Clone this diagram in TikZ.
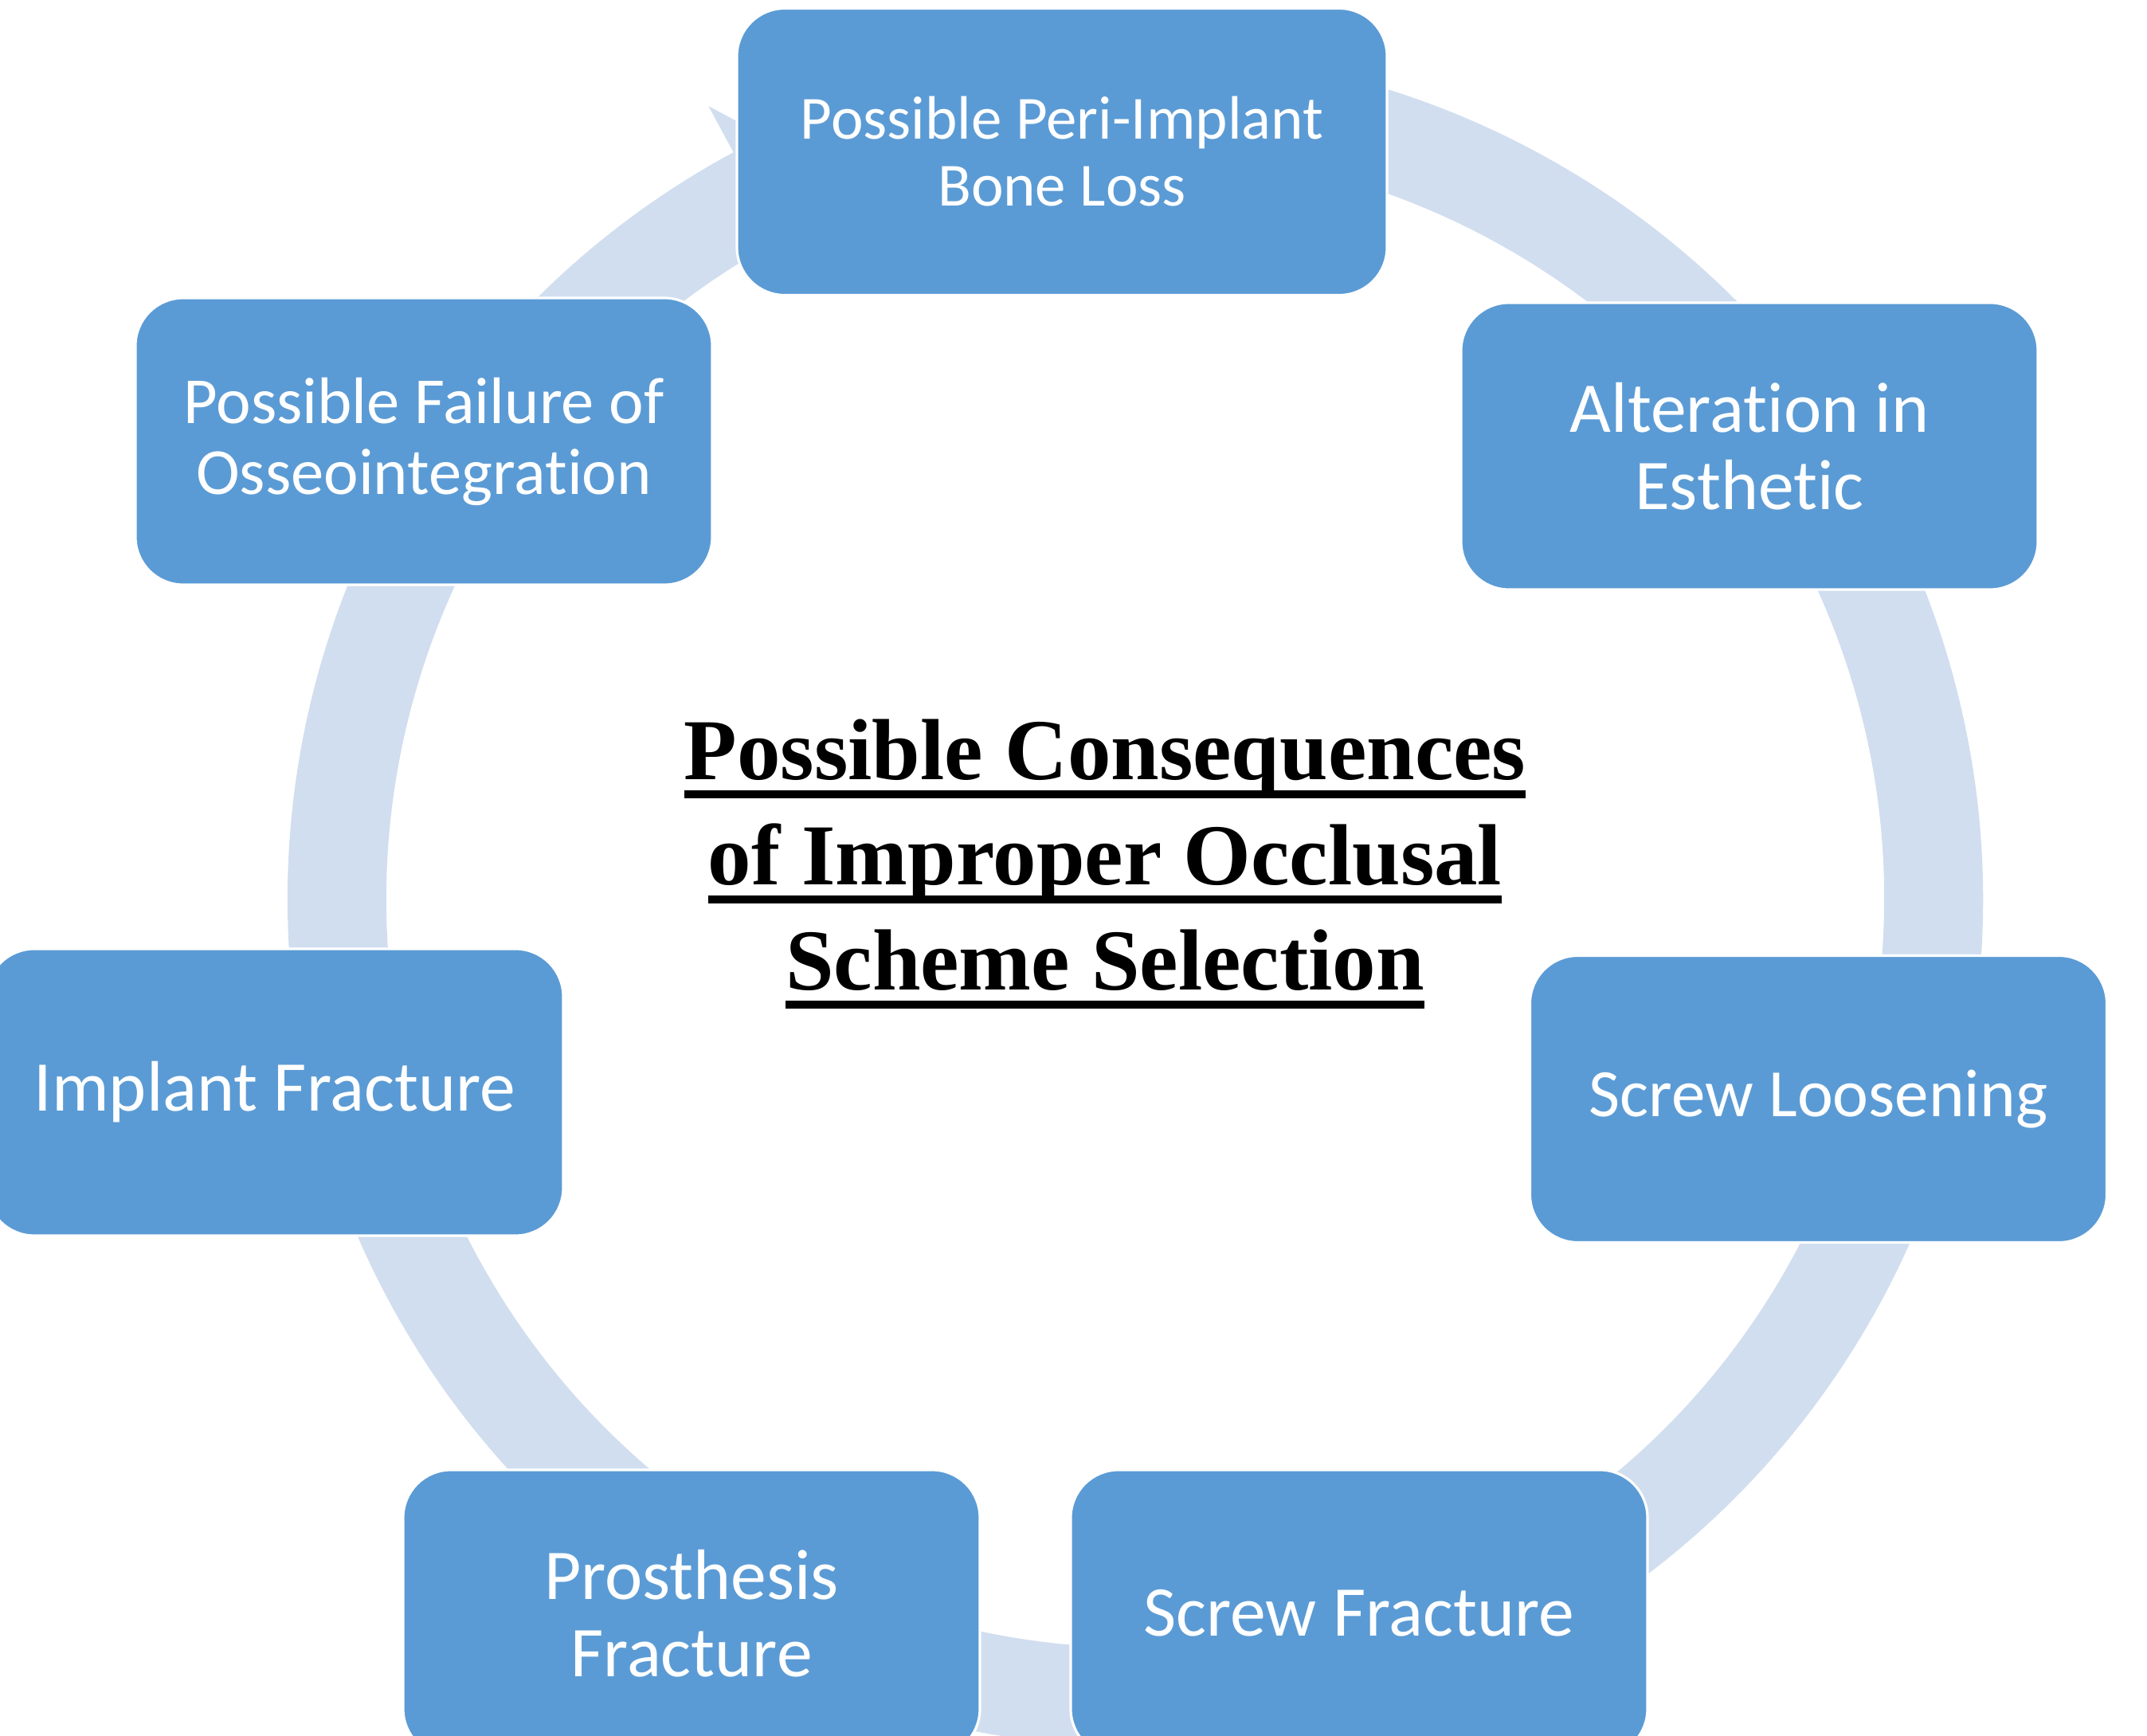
\documentclass[tikz,border=0pt]{standalone}
\usepackage{fontspec}
\usepackage{tikz}
\newfontfamily\boxfont{Carlito}[Ligatures={NoCommon,NoRequired}]
\newfontfamily\headfont{Liberation Serif}
\definecolor{boxblue}{RGB}{91,155,213}
\definecolor{ringblue}{RGB}{209,222,239}
\newcommand{\ulline}[1]{\setbox0\hbox{#1}\rlap{\rule[-0.23cm]{\wd0}{0.1cm}}\box0}

\begin{document}
\begin{tikzpicture}[
  box/.style={draw=white, line width=0.9pt, fill=boxblue, rounded corners=0.6cm, minimum width=7.24cm, minimum height=3.6cm, align=center, text=white, inner sep=0pt},
  bigtext/.style={font=\boxfont\fontsize{25.5}{27.5}\selectfont},
  ring/.style={fill=ringblue},
]
  \useasboundingbox (0,0) rectangle (26.95,21.78);
  \coordinate (hub) at (14.25,10.50);

  \fill[ring] ([shift={(105:10.64)}]hub) arc[start angle=105, end angle=-241.7, radius=10.64]
    -- ([shift={(-241.7:11.30)}]hub) -- ([shift={(-246.7:10.02)}]hub) -- ([shift={(-241.7:8.74)}]hub)
    -- ([shift={(-241.7:9.40)}]hub) arc[start angle=-241.7, end angle=105, radius=9.40] -- cycle;

  \node[box, minimum width=8.16cm, font=\boxfont\fontsize{21.9}{23.9}\selectfont] (boneloss) at (13.33,19.875) {Possible Peri-Implant\\Bone Loss};
  \node[box, bigtext] (esthetic) at (21.96,16.18) {Alteration in\\Esthetic};
  \node[box, font=\boxfont\fontsize{24.2}{26}\selectfont] (loosening) at (22.825,7.985) {Screw Loosening};
  \node[box, bigtext] (screwfx) at (17.06,1.53) {Screw Fracture};
  \node[box, bigtext] (prosthfx) at (8.68,1.53) {Prosthesis\\Fracture};
  \node[box, bigtext] (implantfx) at (3.45,8.07) {Implant Fracture};
  \node[box, font=\boxfont\fontsize{23.5}{25.3}\selectfont] (osseo) at (5.32,16.24) {Possible Failure of\\Osseointegration};

  \node[font=\headfont\bfseries\fontsize{31}{37.6}\selectfont, align=center, anchor=base] (title) at (13.87,9.35)
    {\ulline{Possible Consequences}\\\ulline{of Improper Occlusal}\\\ulline{Scheme Selection}};
\end{tikzpicture}
\end{document}
